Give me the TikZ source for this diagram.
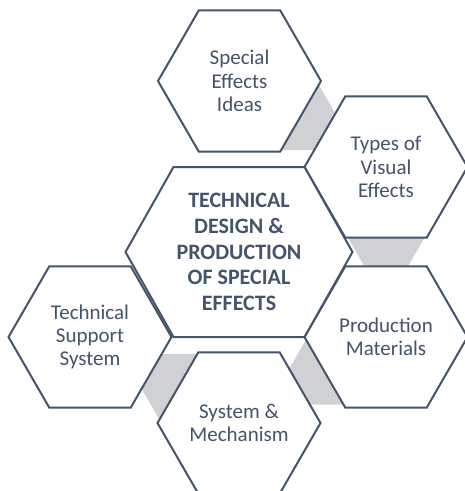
\documentclass[tikz,border=0pt]{standalone}
\usepackage{fontspec}
\setmainfont{Carlito}
\usetikzlibrary{shapes.geometric,calc}
\definecolor{slate}{HTML}{44546A}
\definecolor{linkgray}{HTML}{D0D1D5}
\begin{document}
\begin{tikzpicture}[x=1pt,y=-1pt,hexa/.style = {regular polygon, regular polygon sides=6, minimum size=163pt, inner sep=0pt, draw=slate, line width=2pt, fill=white, text=slate, align=center, font=\fontsize{21}{23.3}\selectfont},link/.style = {regular polygon, regular polygon sides=6, minimum size=78pt, inner sep=0pt, fill=linkgray},core/.style = {text=slate, align=center, font=\fontsize{22}{25.8}\selectfont\bfseries},]
\useasboundingbox (0,0) rectangle (465,491);
\coordinate (O) at (239,252);
\foreach \a [count=\i] in {-66.5,-6,53.5,113.5}
  \node (L\i) at ($(O)+(\a:148)$)[link] {};
\node (A) at (239.5,81)[hexa] {Special\\Effects\\Ideas};
\node (B) at (386,167)[hexa] {Types of\\Visual\\Effects};
\node (C) at (386,337)[hexa] {Production\\Materials};
\node (D) at (239,423)[hexa] {System \&\\Mechanism};
\node (E) at (90,337)[hexa] {Technical\\Support\\System};
\draw[line width=2pt,draw=slate,fill=white] (O) ++(-113.5,0) -- ++(48,-85) -- ++(131,0) -- ++(48,85) -- ++(-48,85) -- ++(-131,0) -- cycle;
\node (T) at (O)[core] {TECHNICAL\\DESIGN \&\\PRODUCTION\\OF SPECIAL\\EFFECTS};
\end{tikzpicture}
\end{document}
